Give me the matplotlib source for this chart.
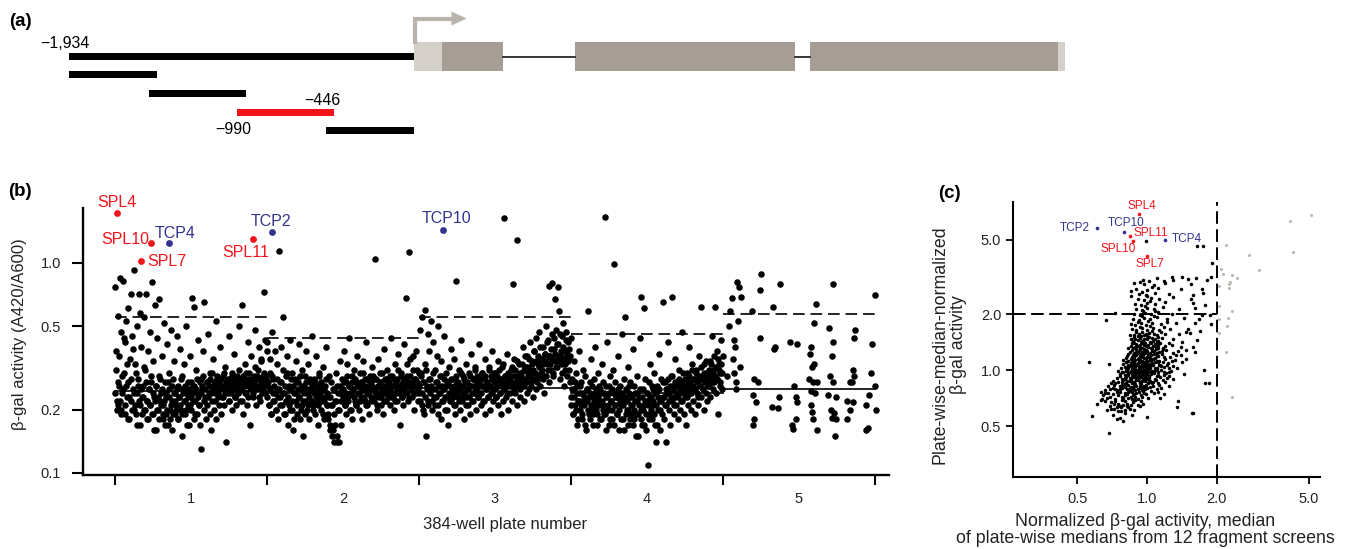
import numpy as np
import matplotlib
matplotlib.use("Agg")
import matplotlib.pyplot as plt
from matplotlib.patches import Polygon
from matplotlib.ticker import NullLocator

plt.rcParams['font.family'] = ['Liberation Sans', 'DejaVu Sans']

RED = '#f2141b'
BLUE = '#33338f'
LIGHT = '#d5d1ca'
DARK = '#a69d94'
ARROW = '#bab3ac'
GRAY = '#bdb8b1'

W, H = 1352, 549

# ---------------- panel (a) data: bp relative to TSS
frag_start = [-1934, -1934, -1485, -990, -493]
frag_end = [0, -1441, -942, -446, 0]
frag_color = ['black', 'black', 'black', RED, 'black']
exon_start = [157, 902, 2220]
exon_end = [499, 2136, 3610]
utr5 = (0, 157)
utr3 = (3610, 3649)

# ---------------- panel (b) data: beta-gal activity per well, plate order
plate1 = [0.77, 0.38, 0.22, 0.21, 0.56, 0.26, 0.85, 0.47, 0.20, 0.24, 0.82, 0.30, 0.19, 0.42, 0.53, 0.23, 0.27, 0.61, 0.18, 0.35,
          0.71, 0.22, 0.45, 0.25, 0.20, 0.93, 0.33, 0.19, 0.50, 0.24, 0.28, 0.71, 0.21, 0.17, 0.40, 0.23, 0.26, 0.55, 0.20, 0.31,
          0.71, 0.22, 0.18, 0.38, 0.25, 0.47, 0.21, 0.27, 0.81, 0.19, 0.34, 0.23, 0.63, 0.16, 0.26, 0.44, 0.20, 0.67, 0.29, 0.22,
          0.24, 0.36, 0.18, 0.21, 0.52, 0.27, 0.19, 0.23, 0.41, 0.17, 0.25, 0.30, 0.20, 0.48, 0.22, 0.16, 0.28, 0.34, 0.19, 0.24,
          0.21, 0.45, 0.26, 0.18, 0.23, 0.39, 0.20, 0.29, 0.15, 0.25, 0.33, 0.22, 0.19, 0.50, 0.24, 0.21, 0.27, 0.17, 0.36, 0.23,
          0.20, 0.68, 0.26, 0.18, 0.62, 0.22, 0.31, 0.19, 0.24, 0.43, 0.21, 0.17, 0.28, 0.13, 0.25, 0.38, 0.20, 0.65, 0.23, 0.18,
          0.27, 0.21, 0.46, 0.24, 0.19, 0.30, 0.16, 0.22, 0.35, 0.26, 0.20, 0.24, 0.53, 0.18, 0.28, 0.23, 0.21, 0.40, 0.25, 0.19,
          0.26, 0.23, 0.29, 0.21, 0.32, 0.25, 0.14, 0.27, 0.24, 0.45, 0.22, 0.28, 0.26, 0.20, 0.30, 0.25, 0.37, 0.23, 0.27, 0.21,
          0.29, 0.24, 0.26, 0.50, 0.22, 0.28, 0.63, 0.25, 0.19, 0.27, 0.33, 0.24, 0.30, 0.21, 0.42, 0.26, 0.28, 0.17, 0.25, 0.36,
          0.27, 0.23, 0.29, 0.26, 0.48, 0.21, 0.28, 0.31, 0.25, 0.40, 0.22, 0.27, 0.34, 0.24, 0.29, 0.73, 0.26, 0.43, 0.28, 0.38]
plate2 = [0.42, 0.26, 0.21, 0.35, 0.30, 0.19, 0.47, 0.24, 0.28, 0.22, 0.38, 0.20, 0.33, 0.25, 0.18, 1.14, 0.27, 0.23, 0.40, 0.21,
          0.31, 0.55, 0.24, 0.19, 0.29, 0.22, 0.36, 0.17, 0.26, 0.21, 0.43, 0.25, 0.20, 0.30, 0.16, 0.24, 0.28, 0.22, 0.34, 0.19,
          0.27, 0.23, 0.41, 0.18, 0.25, 0.21, 0.31, 0.15, 0.26, 0.22, 0.29, 0.38, 0.20, 0.24, 0.33, 0.18, 0.27, 0.22, 0.25, 0.45,
          0.21, 0.28, 0.19, 0.24, 0.36, 0.22, 0.26, 0.17, 0.30, 0.23, 0.20, 0.27, 0.25, 0.32, 0.18, 0.22, 0.26, 0.40, 0.21, 0.24,
          0.19, 0.29, 0.23, 0.17, 0.27, 0.21, 0.16, 0.25, 0.14, 0.22, 0.30, 0.15, 0.26, 0.20, 0.14, 0.34, 0.24, 0.17, 0.28, 0.22,
          0.25, 0.38, 0.21, 0.27, 0.19, 0.33, 0.23, 0.26, 0.44, 0.20, 0.24, 0.29, 0.18, 0.25, 0.31, 0.22, 0.27, 0.21, 0.36, 0.24,
          0.26, 0.20, 0.30, 0.23, 0.27, 0.18, 0.34, 0.25, 0.22, 0.28, 0.42, 0.21, 0.26, 0.24, 0.19, 0.29, 0.23, 0.27, 0.32, 0.25,
          0.22, 1.05, 0.28, 0.24, 0.20, 0.35, 0.26, 0.23, 0.30, 0.21, 0.27, 0.25, 0.19, 0.39, 0.24, 0.28, 0.22, 0.26, 0.31, 0.23,
          0.27, 0.21, 0.25, 0.44, 0.29, 0.23, 0.26, 0.20, 0.33, 0.24, 0.28, 0.22, 0.37, 0.26, 0.17, 0.25, 0.30, 0.23, 0.27, 0.21,
          0.41, 0.26, 0.24, 0.68, 0.29, 0.22, 1.13, 0.27, 0.35, 0.25, 0.23, 0.31, 0.26, 0.20, 0.28, 0.38, 0.24, 0.27, 0.22, 0.30]
plate3 = [0.24, 0.48, 0.30, 0.21, 0.55, 0.27, 0.19, 0.60, 0.33, 0.15, 0.26, 0.46, 0.22, 0.38, 0.28, 0.53, 0.20, 0.25, 0.42, 0.23,
          0.31, 0.21, 0.27, 0.36, 0.19, 0.50, 0.24, 0.29, 0.18, 0.34, 0.26, 0.22, 0.45, 0.25, 0.20, 0.30, 0.23, 0.27, 0.17, 0.32,
          0.26, 0.22, 0.39, 0.24, 0.28, 0.21, 0.35, 0.19, 0.82, 0.25, 0.27, 0.23, 0.31, 0.20, 0.26, 0.43, 0.22, 0.29, 0.24, 0.18,
          0.27, 0.33, 0.23, 0.25, 0.21, 0.30, 0.26, 0.19, 0.37, 0.24, 0.28, 0.22, 0.26, 0.32, 0.20, 0.25, 0.29, 0.23, 0.41, 0.27,
          0.24, 0.21, 0.30, 0.26, 0.22, 0.28, 0.35, 0.19, 0.25, 0.27, 0.23, 0.31, 0.26, 0.20, 0.29, 0.24, 0.38, 0.22, 0.27, 0.25,
          0.30, 0.23, 0.26, 0.21, 0.34, 0.28, 0.24, 0.19, 0.27, 0.32, 0.22, 1.63, 0.25, 0.29, 0.23, 0.37, 0.26, 0.20, 0.28, 0.24,
          0.31, 0.27, 0.22, 0.79, 0.26, 0.35, 0.24, 0.29, 0.21, 1.29, 0.27, 0.33, 0.25, 0.23, 0.30, 0.28, 0.40, 0.26, 0.22, 0.32,
          0.27, 0.24, 0.36, 0.29, 0.25, 0.31, 0.42, 0.26, 0.34, 0.23, 0.28, 0.38, 0.30, 0.25, 0.44, 0.27, 0.33, 0.29, 0.47, 0.26,
          0.35, 0.31, 0.28, 0.40, 0.24, 0.37, 0.50, 0.29, 0.33, 0.43, 0.27, 0.78, 0.36, 0.31, 0.46, 0.80, 0.29, 0.39, 0.67, 0.34,
          0.48, 0.32, 0.77, 0.41, 0.59, 0.28, 0.36, 0.45, 0.30, 0.52, 0.26, 0.38, 0.33, 0.47, 0.29, 0.35, 0.42, 0.31, 0.27, 0.44]
plate4 = [0.23, 0.28, 0.19, 0.34, 0.25, 0.21, 0.30, 0.17, 0.26, 0.22, 0.38, 0.20, 0.24, 0.27, 0.18, 0.31, 0.23, 0.21, 0.29, 0.16,
          0.25, 0.22, 0.59, 0.19, 0.27, 0.24, 0.35, 0.20, 0.23, 0.17, 0.28, 0.40, 0.21, 0.25, 0.19, 0.30, 0.22, 0.26, 0.18, 0.24,
          0.33, 0.21, 0.27, 0.19, 1.66, 0.23, 0.26, 0.42, 0.20, 0.24, 0.17, 0.29, 0.22, 0.25, 0.18, 0.31, 0.99, 0.21, 0.27, 0.23,
          0.19, 0.36, 0.24, 0.16, 0.26, 0.21, 0.46, 0.23, 0.18, 0.28, 0.55, 0.22, 0.25, 0.20, 0.32, 0.17, 0.24, 0.27, 0.19, 0.23,
          0.21, 0.39, 0.18, 0.26, 0.22, 0.15, 0.24, 0.29, 0.19, 0.23, 0.44, 0.20, 0.69, 0.17, 0.25, 0.61, 0.21, 0.28, 0.16, 0.24,
          0.22, 0.109, 0.27, 0.19, 0.33, 0.23, 0.18, 0.25, 0.21, 0.30, 0.17, 0.24, 0.14, 0.26, 0.20, 0.37, 0.22, 0.16, 0.28, 0.19,
          0.65, 0.23, 0.18, 0.27, 0.21, 0.14, 0.25, 0.42, 0.20, 0.24, 0.17, 0.29, 0.22, 0.69, 0.26, 0.19, 0.23, 0.35, 0.21, 0.27,
          0.18, 0.24, 0.31, 0.20, 0.26, 0.22, 0.47, 0.25, 0.19, 0.28, 0.23, 0.17, 0.30, 0.21, 0.27, 0.40, 0.24, 0.20, 0.26, 0.33,
          0.22, 0.28, 0.25, 0.19, 0.31, 0.24, 0.27, 0.21, 0.36, 0.26, 0.62, 0.23, 0.29, 0.25, 0.20, 0.33, 0.27, 0.24, 0.30, 0.22,
          0.28, 0.26, 0.34, 0.23, 0.29, 0.45, 0.25, 0.31, 0.27, 0.62, 0.24, 0.38, 0.28, 0.19, 0.33, 0.26, 0.30, 0.43, 0.25, 0.36]
# second read-out replicate wells (fill the dense band)
plate1_rep = [0.24, 0.31, 0.20, 0.27, 0.36, 0.22, 0.19, 0.29, 0.25, 0.44, 0.21, 0.26, 0.33, 0.18, 0.23,
              0.28, 0.20, 0.39, 0.24, 0.21, 0.30, 0.17, 0.26, 0.22, 0.58, 0.25, 0.19, 0.23, 0.32, 0.20,
              0.27, 0.22, 0.18, 0.25, 0.21, 0.29, 0.19, 0.24, 0.16, 0.22, 0.26, 0.20, 0.23, 0.18, 0.28,
              0.21, 0.25, 0.19, 0.22, 0.17, 0.24, 0.20, 0.27, 0.23, 0.18, 0.21, 0.26, 0.19, 0.24, 0.22,
              0.20, 0.25, 0.18, 0.23, 0.21, 0.28, 0.19, 0.24, 0.22, 0.26, 0.20, 0.17, 0.23, 0.25, 0.21,
              0.27, 0.24, 0.22, 0.26, 0.19, 0.25, 0.28, 0.23, 0.21, 0.27, 0.24, 0.26, 0.29, 0.22, 0.25,
              0.27, 0.23, 0.26, 0.28, 0.24, 0.30, 0.25, 0.27, 0.22, 0.26, 0.29, 0.24, 0.27, 0.25, 0.28,
              0.23, 0.26, 0.30, 0.24, 0.27, 0.25, 0.28, 0.22, 0.26, 0.24, 0.29, 0.27, 0.25, 0.23, 0.28,
              0.26, 0.24, 0.31, 0.27, 0.25, 0.22, 0.29, 0.26, 0.28, 0.24, 0.27, 0.23, 0.30, 0.26, 0.25,
              0.28, 0.24, 0.27, 0.32, 0.25, 0.29, 0.26, 0.23, 0.28, 0.35, 0.27, 0.25, 0.30, 0.24, 0.29]
plate2_rep = [0.23, 0.27, 0.21, 0.25, 0.19, 0.29, 0.22, 0.26, 0.24, 0.20, 0.28, 0.23, 0.25, 0.21, 0.27,
              0.24, 0.19, 0.26, 0.22, 0.30, 0.23, 0.25, 0.20, 0.28, 0.22, 0.26, 0.18, 0.24, 0.27, 0.21,
              0.25, 0.23, 0.29, 0.20, 0.26, 0.22, 0.24, 0.19, 0.27, 0.25, 0.21, 0.23, 0.28, 0.22, 0.26,
              0.20, 0.24, 0.27, 0.23, 0.25, 0.21, 0.29, 0.24, 0.22, 0.26, 0.19, 0.25, 0.23, 0.28, 0.21,
              0.18, 0.23, 0.16, 0.21, 0.15, 0.25, 0.19, 0.17, 0.22, 0.14, 0.24, 0.20, 0.26, 0.22, 0.25,
              0.23, 0.27, 0.21, 0.24, 0.29, 0.22, 0.26, 0.24, 0.20, 0.27, 0.25, 0.23, 0.28, 0.21, 0.26,
              0.24, 0.22, 0.27, 0.25, 0.30, 0.23, 0.26, 0.21, 0.28, 0.24, 0.25, 0.27, 0.22, 0.26, 0.29,
              0.23, 0.25, 0.28, 0.21, 0.26, 0.24, 0.27, 0.23, 0.30, 0.25, 0.22, 0.26, 0.28, 0.24, 0.27,
              0.25, 0.29, 0.23, 0.26, 0.24, 0.28, 0.22, 0.27, 0.25, 0.31, 0.24, 0.26, 0.29, 0.23, 0.27,
              0.25, 0.28, 0.24, 0.33, 0.26, 0.23, 0.29, 0.25, 0.27, 0.36, 0.24, 0.28, 0.26, 0.31, 0.25]
plate3_rep = [0.26, 0.22, 0.29, 0.24, 0.20, 0.27, 0.23, 0.31, 0.25, 0.21, 0.28, 0.24, 0.26, 0.22, 0.30,
              0.25, 0.23, 0.27, 0.21, 0.26, 0.24, 0.29, 0.22, 0.25, 0.28, 0.23, 0.26, 0.20, 0.27, 0.24,
              0.22, 0.28, 0.25, 0.23, 0.26, 0.21, 0.29, 0.24, 0.27, 0.22, 0.25, 0.30, 0.23, 0.26, 0.28,
              0.24, 0.21, 0.27, 0.25, 0.23, 0.29, 0.26, 0.22, 0.28, 0.24, 0.31, 0.25, 0.27, 0.23, 0.26,
              0.28, 0.24, 0.30, 0.26, 0.22, 0.29, 0.25, 0.27, 0.23, 0.32, 0.26, 0.24, 0.28, 0.25, 0.30,
              0.27, 0.23, 0.29, 0.26, 0.31, 0.24, 0.28, 0.26, 0.33, 0.25, 0.29, 0.27, 0.24, 0.30, 0.28,
              0.26, 0.32, 0.29, 0.25, 0.31, 0.27, 0.34, 0.28, 0.26, 0.30, 0.29, 0.33, 0.27, 0.31, 0.36,
              0.28, 0.32, 0.30, 0.35, 0.29, 0.27, 0.33, 0.31, 0.38, 0.30, 0.34, 0.28, 0.36, 0.32, 0.40,
              0.30, 0.35, 0.33, 0.29, 0.37, 0.34, 0.42, 0.31, 0.36, 0.33, 0.39, 0.35, 0.30, 0.44, 0.37,
              0.32, 0.41, 0.36, 0.34, 0.46, 0.38, 0.33, 0.40, 0.35, 0.31, 0.43, 0.37, 0.34, 0.39, 0.36]
plate4_rep = [0.21, 0.25, 0.19, 0.23, 0.27, 0.20, 0.24, 0.18, 0.22, 0.26, 0.21, 0.19, 0.24, 0.22, 0.17,
              0.25, 0.20, 0.23, 0.18, 0.21, 0.26, 0.19, 0.22, 0.24, 0.20, 0.17, 0.23, 0.21, 0.25, 0.18,
              0.22, 0.20, 0.24, 0.19, 0.16, 0.23, 0.21, 0.26, 0.18, 0.22, 0.20, 0.24, 0.17, 0.21, 0.23,
              0.19, 0.25, 0.20, 0.22, 0.18, 0.24, 0.21, 0.16, 0.23, 0.19, 0.22, 0.20, 0.26, 0.18, 0.21,
              0.23, 0.17, 0.20, 0.24, 0.19, 0.22, 0.15, 0.21, 0.25, 0.18, 0.23, 0.20, 0.17, 0.22, 0.19,
              0.24, 0.21, 0.18, 0.23, 0.20, 0.26, 0.22, 0.19, 0.24, 0.21, 0.17, 0.23, 0.25, 0.20, 0.22,
              0.27, 0.23, 0.21, 0.25, 0.24, 0.28, 0.22, 0.26, 0.23, 0.29, 0.25, 0.21, 0.27, 0.24, 0.26,
              0.23, 0.28, 0.25, 0.22, 0.27, 0.30, 0.24, 0.26, 0.28, 0.23, 0.25, 0.29, 0.27, 0.24, 0.31,
              0.26, 0.28, 0.25, 0.30, 0.27, 0.23, 0.29, 0.26, 0.32, 0.28, 0.25, 0.30, 0.27, 0.34, 0.29,
              0.26, 0.31, 0.28, 0.33, 0.27, 0.30, 0.36, 0.29, 0.32, 0.28, 0.35, 0.31, 0.27, 0.33, 0.30]
# plate 5 has gaps, so keep explicit positions (plate units)
p5_pos = [4.092, 4.105, 4.118, 4.059, 4.046, 4.098, 4.072, 4.078, 4.111, 4.085, 4.085, 4.04, 4.072, 4.026, 4.065,
          4.248, 4.242, 4.190, 4.242, 4.203, 4.229, 4.196, 4.216, 4.203, 4.196,
          4.373, 4.327, 4.340, 4.333, 4.320, 4.359, 4.366,
          4.444, 4.484, 4.464, 4.477, 4.484, 4.477, 4.451, 4.458,
          4.614, 4.601, 4.582, 4.575, 4.601, 4.588, 4.569, 4.595, 4.621, 4.582, 4.608, 4.582, 4.588, 4.595, 4.621,
          4.699, 4.725, 4.719, 4.706, 4.725, 4.693, 4.745, 4.712, 4.732, 4.719, 4.745, 4.739, 4.725,
          4.869, 4.863, 4.856, 4.863, 4.850, 4.837, 4.817, 4.856, 4.837, 4.817,
          5.0, 4.980, 4.974, 5.0, 4.961, 4.941, 5.007, 4.954, 4.941]
p5_val = [0.81, 0.77, 0.69, 0.68, 0.59, 0.53, 0.43, 0.40, 0.32, 0.27, 0.25, 0.50, 0.30, 0.29, 0.35,
          0.89, 0.74, 0.59, 0.44, 0.28, 0.27, 0.235, 0.218, 0.18, 0.17,
          0.79, 0.62, 0.40, 0.39, 0.207, 0.204, 0.23,
          0.42, 0.41, 0.26, 0.23, 0.218, 0.18, 0.17, 0.162,
          0.64, 0.52, 0.40, 0.37, 0.33, 0.32, 0.28, 0.27, 0.27, 0.245, 0.24, 0.21, 0.195, 0.18, 0.16,
          0.49, 0.42, 0.36, 0.29, 0.27, 0.235, 0.23, 0.20, 0.193, 0.183, 0.18, 0.15, 0.79,
          0.48, 0.44, 0.31, 0.29, 0.27, 0.27, 0.22, 0.218, 0.20, 0.18,
          0.70, 0.41, 0.30, 0.26, 0.235, 0.21, 0.20, 0.163, 0.16]
plate_median = [0.245, 0.24, 0.255, 0.24, 0.25]
plate_cutoff = [0.55, 0.44, 0.55, 0.46, 0.57]

# highlighted hits in (b): position, value, colour, label offset (px)
b_names = ['SPL4', 'SPL10', 'TCP4', 'SPL7', 'SPL11', 'TCP2', 'TCP10']
b_pos = [0.01, 0.237, 0.355, 0.171, 0.91, 1.03, 2.16]
b_val = [1.73, 1.245, 1.245, 1.02, 1.30, 1.41, 1.44]
b_col = [RED, RED, BLUE, RED, RED, BLUE, BLUE]
b_off = [(0, 10), (-26, 3), (6, 9), (26, 0), (-8, -13), (-1, 10), (3, 11)]

# ---------------- panel (c) data
c_black = [
    (0.56, 1.10), (0.685, 1.08), (0.665, 1.86), (0.73, 2.02), (0.58, 0.565), (0.685, 0.46), (0.63, 0.69),
    (0.645, 0.73), (0.61, 0.66), (0.67, 0.61), (0.74, 0.545), (0.79, 0.53), (0.80, 0.59), (1.0, 0.56),
    (1.58, 0.59), (1.35, 0.63), (1.36, 0.68), (1.78, 0.85), (1.85, 0.85), (1.14, 0.71), (1.76, 1.0),
    (1.57, 0.59), (0.71, 0.57), (0.76, 0.55), (0.86, 0.57), (0.69, 0.64),
    (1.42, 3.16), (1.63, 3.12), (1.82, 3.05), (1.89, 3.16), (1.28, 3.16), (1.10, 3.12), (1.18, 3.0),
    (0.88, 2.93), (0.85, 2.66), (0.85, 2.5), (1.58, 2.53), (1.75, 2.6), (1.58, 2.29), (1.78, 2.24),
    (1.87, 1.97), (1.73, 1.97), (1.89, 1.77), (1.53, 1.58), (1.65, 1.45), (1.58, 1.33), (0.99, 4.94),
    (1.65, 4.64), (1.75, 4.64), (1.91, 3.76), (1.62, 1.25), (1.48, 1.15), (1.70, 1.62), (1.45, 0.95),
    (0.72, 0.62), (0.77, 0.60), (0.83, 0.63), (0.88, 0.61), (0.93, 0.64), (0.76, 0.64),
    (0.70, 0.67), (0.75, 0.66), (0.80, 0.68), (0.85, 0.65), (0.89, 0.69), (0.96, 0.66), (0.82, 0.66),
    (0.67, 0.71), (0.73, 0.70), (0.78, 0.72), (0.83, 0.71), (0.87, 0.73), (0.91, 0.70), (0.95, 0.72),
    (1.01, 0.71), (0.80, 0.73),
    (0.66, 0.75), (0.71, 0.74), (0.76, 0.76), (0.80, 0.75), (0.84, 0.77), (0.88, 0.74), (0.92, 0.76),
    (0.97, 0.75), (1.04, 0.77), (0.86, 0.76),
    (0.69, 0.79), (0.74, 0.78), (0.78, 0.80), (0.82, 0.79), (0.85, 0.81), (0.89, 0.78), (0.93, 0.80),
    (0.98, 0.79), (1.03, 0.81), (1.10, 0.79), (0.87, 0.80), (0.95, 0.78),
    (0.72, 0.83), (0.76, 0.82), (0.80, 0.84), (0.83, 0.83), (0.86, 0.85), (0.90, 0.82), (0.94, 0.84),
    (0.99, 0.83), (1.05, 0.85), (1.13, 0.83), (0.88, 0.84), (0.97, 0.82), (1.01, 0.85),
    (0.71, 0.87), (0.75, 0.86), (0.79, 0.88), (0.82, 0.87), (0.85, 0.89), (0.88, 0.86), (0.91, 0.88),
    (0.95, 0.87), (1.00, 0.89), (1.06, 0.86), (1.17, 0.88), (0.93, 0.86), (0.97, 0.89), (1.03, 0.87),
    (0.74, 0.91), (0.78, 0.90), (0.81, 0.92), (0.84, 0.91), (0.87, 0.93), (0.90, 0.90), (0.93, 0.92),
    (0.97, 0.91), (1.02, 0.93), (1.08, 0.90), (1.14, 0.92), (0.89, 0.92), (0.95, 0.93), (1.00, 0.90),
    (1.22, 0.91),
    (0.76, 0.95), (0.80, 0.94), (0.83, 0.96), (0.86, 0.95), (0.89, 0.97), (0.92, 0.94), (0.96, 0.96),
    (1.00, 0.95), (1.04, 0.97), (1.11, 0.94), (1.21, 0.96), (0.88, 0.94), (0.94, 0.97), (0.98, 0.94),
    (1.07, 0.96),
    (0.75, 0.99), (0.79, 0.98), (0.82, 1.00), (0.85, 0.99), (0.88, 1.01), (0.91, 0.98), (0.94, 1.00),
    (0.98, 0.99), (1.02, 1.01), (1.07, 0.98), (1.15, 1.00), (1.27, 0.99), (0.90, 1.00), (0.96, 0.98),
    (1.00, 1.01), (1.10, 1.01),
    (0.77, 1.03), (0.81, 1.02), (0.84, 1.05), (0.87, 1.03), (0.90, 1.06), (0.93, 1.02), (0.96, 1.04),
    (1.00, 1.03), (1.05, 1.06), (1.10, 1.02), (1.18, 1.04), (1.30, 1.05), (0.92, 1.05), (0.98, 1.06),
    (1.03, 1.02), (1.13, 1.06),
    (0.79, 1.08), (0.83, 1.07), (0.86, 1.10), (0.89, 1.08), (0.92, 1.11), (0.95, 1.07), (0.99, 1.09),
    (1.03, 1.08), (1.08, 1.11), (1.14, 1.07), (1.23, 1.09), (0.91, 1.09), (0.97, 1.11), (1.01, 1.07),
    (1.11, 1.10),
    (0.79, 1.13), (0.83, 1.12), (0.86, 1.15), (0.89, 1.13), (0.92, 1.16), (0.95, 1.12), (0.99, 1.14),
    (1.03, 1.13), (1.08, 1.16), (1.13, 1.12), (1.20, 1.15), (1.32, 1.13), (0.94, 1.17), (1.00, 1.17),
    (1.06, 1.14),
    (0.82, 1.19), (0.86, 1.18), (0.89, 1.21), (0.93, 1.19), (0.96, 1.22), (1.00, 1.18), (1.04, 1.20),
    (1.10, 1.19), (1.16, 1.22), (1.26, 1.18), (0.91, 1.23), (0.98, 1.23), (1.07, 1.22), (1.40, 1.21),
    (0.84, 1.25), (0.88, 1.24), (0.92, 1.27), (0.95, 1.25), (0.99, 1.28), (1.03, 1.24), (1.07, 1.26),
    (1.13, 1.25), (1.21, 1.28), (1.36, 1.26), (0.90, 1.29), (0.97, 1.30), (1.05, 1.29), (1.17, 1.30),
    (0.83, 1.32), (0.87, 1.31), (0.91, 1.34), (0.95, 1.32), (0.99, 1.35), (1.04, 1.31), (1.09, 1.33),
    (1.17, 1.32), (1.28, 1.36), (0.93, 1.37), (1.01, 1.37), (1.12, 1.36),
    (0.86, 1.39), (0.90, 1.38), (0.94, 1.41), (0.98, 1.39), (1.03, 1.42), (1.08, 1.38), (1.14, 1.40),
    (1.24, 1.39), (1.42, 1.41), (0.96, 1.44), (1.06, 1.44),
    (0.85, 1.47), (0.89, 1.46), (0.93, 1.49), (0.97, 1.47), (1.02, 1.50), (1.08, 1.46), (1.16, 1.48),
    (1.30, 1.47), (0.91, 1.52), (1.00, 1.52), (1.12, 1.51),
    (0.84, 1.55), (0.88, 1.54), (0.92, 1.57), (0.97, 1.55), (1.02, 1.59), (1.10, 1.54), (1.20, 1.57),
    (1.38, 1.56), (0.95, 1.61), (1.05, 1.62), (1.48, 1.60),
    (0.86, 1.66), (0.90, 1.64), (0.95, 1.68), (1.00, 1.65), (1.06, 1.69), (1.13, 1.64), (1.26, 1.67),
    (1.50, 1.66), (0.93, 1.71), (1.03, 1.72), (1.18, 1.71),
    (0.85, 1.76), (0.89, 1.74), (0.94, 1.78), (0.99, 1.75), (1.05, 1.80), (1.15, 1.76), (1.33, 1.78),
    (0.91, 1.82), (1.01, 1.83), (1.22, 1.82), (1.62, 1.80),
    (0.87, 1.88), (0.92, 1.86), (0.97, 1.90), (1.03, 1.87), (1.10, 1.92), (1.22, 1.88), (1.45, 1.90),
    (1.68, 1.87), (0.95, 1.94), (1.07, 1.95),
    (0.88, 2.00), (0.93, 1.98), (0.98, 2.03), (1.04, 2.00), (1.12, 2.05), (1.28, 2.01), (0.96, 2.07),
    (1.08, 2.08),
    (0.90, 2.12), (0.95, 2.10), (1.00, 2.15), (1.07, 2.12), (1.17, 2.18), (1.38, 2.13), (1.62, 2.15),
    (0.98, 2.20),
    (0.89, 2.26), (0.94, 2.24), (1.00, 2.29), (1.08, 2.25), (1.20, 2.31), (1.03, 2.34),
    (0.91, 2.40), (0.97, 2.38), (1.04, 2.44), (1.13, 2.40), (1.30, 2.46), (1.55, 2.42), (1.00, 2.49),
    (0.92, 2.56), (0.99, 2.54), (1.08, 2.60), (1.24, 2.57), (0.95, 2.63),
    (0.90, 2.72), (1.00, 2.70), (1.12, 2.76), (1.40, 2.72), (1.72, 2.74), (1.05, 2.80),
    (0.97, 2.90), (1.07, 2.88), (1.20, 2.94), (1.55, 2.90), (0.93, 2.97),
    (0.96, 3.06), (1.30, 3.05), (1.50, 3.10), (1.02, 3.02),
    # densest core, second pass
    (0.74, 0.63), (0.79, 0.65), (0.84, 0.62), (0.87, 0.67), (0.91, 0.65), (0.78, 0.69), (0.73, 0.68),
    (0.86, 0.70), (0.94, 0.68),
    (0.69, 0.72), (0.75, 0.73), (0.79, 0.71), (0.82, 0.74), (0.85, 0.72), (0.90, 0.75), (0.94, 0.73),
    (0.99, 0.74), (0.74, 0.76), (0.83, 0.76), (0.89, 0.72), (0.96, 0.77), (1.07, 0.75),
    (0.71, 0.80), (0.76, 0.79), (0.80, 0.81), (0.84, 0.80), (0.88, 0.82), (0.91, 0.79), (0.96, 0.81),
    (1.00, 0.80), (1.06, 0.82), (0.78, 0.83), (0.86, 0.79), (0.93, 0.82), (1.15, 0.80),
    (0.73, 0.85), (0.78, 0.86), (0.81, 0.85), (0.84, 0.87), (0.87, 0.86), (0.90, 0.88), (0.93, 0.85),
    (0.98, 0.87), (1.02, 0.86), (1.09, 0.88), (0.80, 0.89), (0.89, 0.84), (0.96, 0.89), (1.12, 0.85),
    (0.76, 0.93), (0.80, 0.91), (0.83, 0.94), (0.86, 0.92), (0.89, 0.95), (0.92, 0.91), (0.95, 0.94),
    (0.99, 0.92), (1.04, 0.95), (1.10, 0.93), (1.18, 0.94), (0.85, 0.90), (0.91, 0.93), (0.97, 0.95),
    (1.02, 0.91),
    (0.78, 0.97), (0.81, 0.99), (0.84, 0.97), (0.87, 0.99), (0.90, 0.96), (0.93, 0.98), (0.97, 1.00),
    (1.01, 0.97), (1.05, 0.99), (1.12, 0.97), (1.24, 0.98), (0.86, 1.01), (0.92, 1.01), (0.99, 0.96),
    (1.08, 1.00),
    (0.80, 1.04), (0.83, 1.03), (0.86, 1.06), (0.89, 1.04), (0.92, 1.03), (0.95, 1.06), (0.99, 1.04),
    (1.03, 1.05), (1.08, 1.03), (1.15, 1.05), (1.25, 1.03), (0.88, 1.07), (0.94, 1.04), (1.01, 1.06),
    (1.06, 1.07),
    (0.81, 1.10), (0.85, 1.09), (0.88, 1.11), (0.91, 1.08), (0.94, 1.10), (0.97, 1.08), (1.01, 1.12),
    (1.05, 1.09), (1.10, 1.12), (1.17, 1.10), (0.87, 1.13), (0.93, 1.13), (0.99, 1.10), (1.04, 1.13),
    (0.81, 1.16), (0.85, 1.15), (0.88, 1.18), (0.91, 1.15), (0.94, 1.19), (0.97, 1.16), (1.02, 1.18),
    (1.06, 1.15), (1.12, 1.19), (1.18, 1.17), (0.90, 1.20), (0.96, 1.20), (1.03, 1.16),
    (0.83, 1.22), (0.87, 1.21), (0.90, 1.25), (0.94, 1.22), (0.97, 1.26), (1.01, 1.22), (1.05, 1.27),
    (1.10, 1.23), (1.16, 1.26), (0.86, 1.28), (0.93, 1.29), (1.00, 1.27), (1.09, 1.29), (1.30, 1.23),
    (0.85, 1.34), (0.89, 1.33), (0.93, 1.31), (0.97, 1.36), (1.01, 1.33), (1.06, 1.35), (1.12, 1.31),
    (1.20, 1.35), (0.88, 1.39), (0.95, 1.40), (1.04, 1.39), (1.10, 1.41),
    (0.87, 1.43), (0.91, 1.45), (0.95, 1.43), (1.00, 1.46), (1.05, 1.48), (1.12, 1.44), (0.88, 1.50),
    (0.94, 1.53), (0.99, 1.57), (1.07, 1.56), (1.15, 1.60), (0.90, 1.60),
    (0.64, 0.70), (0.66, 0.68), (0.68, 0.75), (0.70, 0.62), (0.72, 0.66), (0.75, 0.60), (0.77, 0.63),
    (0.80, 0.61), (0.82, 0.64), (0.66, 0.78), (0.68, 0.82), (0.63, 0.76), (0.70, 0.85), (0.73, 0.79),
    (1.18, 0.98), (1.22, 1.06), (1.28, 1.12), (1.33, 1.20), (1.25, 0.93), (1.35, 1.02), (1.42, 1.10),
    (1.48, 1.28), (1.40, 1.33), (1.20, 0.86), (1.30, 0.90), (1.12, 0.76), (1.25, 0.82), (1.18, 0.74),
]
c_gray = [(5.13, 6.8), (4.16, 6.3), (4.29, 4.3), (2.2, 4.7), (2.76, 4.15), (3.05, 3.45), (2.09, 3.5),
          (2.13, 3.3), (2.33, 3.24), (2.45, 3.12), (2.29, 2.97), (2.27, 2.9), (2.27, 2.76), (2.05, 2.83),
          (2.05, 2.2), (2.33, 2.07), (2.05, 1.88), (2.24, 1.9), (2.22, 1.72), (2.05, 1.58), (2.2, 1.25),
          (2.33, 0.72)]
c_names = ['SPL4', 'TCP2', 'TCP10', 'SPL11', 'SPL10', 'TCP4', 'SPL7']
c_x = [0.92, 0.61, 0.795, 0.844, 0.87, 1.2, 1.0]
c_y = [6.9, 5.8, 5.5, 5.25, 4.94, 5.0, 4.1]
c_col = [RED, BLUE, BLUE, RED, RED, BLUE, RED]
c_off = [(3, 8), (-23, 0), (2, 9), (21, 3), (-15, -8), (21, 1), (3, -8)]

fig = plt.figure(figsize=(W / 100, H / 100), dpi=100)

# ================= panel (a)
px_per_bp = 345 / 1934
ax_a = fig.add_axes([0, 1 - 150 / H, 1, 150 / H])
ax_a.set_xlim(-414 / px_per_bp, (W - 414) / px_per_bp)
ax_a.set_ylim(150, 0)
ax_a.axis('off')
rows = [56, 74.5, 93.5, 112, 130.5]
for s, e, c, r in zip(frag_start, frag_end, frag_color, rows):
    ax_a.barh(r, e - s, left=s, height=7, color=c, linewidth=0)
# introns
ax_a.plot([exon_end[0], exon_start[1]], [56.5, 56.5], color='black', lw=1.1)
ax_a.plot([exon_end[1], exon_start[2]], [56.5, 56.5], color='black', lw=1.1)
ax_a.barh(56.5, utr5[1] - utr5[0], left=utr5[0], height=29, color=LIGHT, linewidth=0)
ax_a.barh(56.5, utr3[1] - utr3[0], left=utr3[0], height=29, color=LIGHT, linewidth=0)
for s, e in zip(exon_start, exon_end):
    ax_a.barh(56.5, e - s, left=s, height=29, color=DARK, linewidth=0)
# TSS arrow
ax_a.plot([6, 6, 215], [42, 18.5, 18.5], color=ARROW, lw=3, solid_joinstyle='miter')
ax_a.add_patch(Polygon([[210, 11.5], [295, 18.5], [210, 25.5]], closed=True, color=ARROW, lw=0))
ax_a.text(-1956, 43, '\u22121,934', ha='center', va='center', fontsize=11.5)
ax_a.text(-516, 100, '\u2212446', ha='center', va='center', fontsize=11.5)
ax_a.text(-1015, 129, '\u2212990', ha='center', va='center', fontsize=11.5)

# ================= panel (b)
ax_b = fig.add_axes([83 / W, 1 - 475 / H, (889 - 83) / W, (475 - 208) / H])
for k, vals in enumerate([plate1, plate2, plate3, plate4]):
    n = len(vals)
    xs = k + (np.arange(n) + 0.5) / n
    ax_b.scatter(xs, vals, s=22, color='black', linewidths=0, zorder=2)
for k, vals in enumerate([plate1_rep, plate2_rep, plate3_rep, plate4_rep]):
    n = len(vals)
    xs = k + (np.arange(n) + 0.3) / n
    ax_b.scatter(xs, vals, s=22, color='black', linewidths=0, zorder=2)
ax_b.scatter(p5_pos, p5_val, s=22, color='black', linewidths=0, zorder=2)
for k in range(5):
    ax_b.plot([k, k + 1], [plate_median[k]] * 2, color='black', lw=1.2, zorder=3)
    ax_b.plot([k, k + 1], [plate_cutoff[k]] * 2, color='black', lw=1.2,
              ls=(0, (7, 3.5)), zorder=3)
for name, x, y, c, off in zip(b_names, b_pos, b_val, b_col, b_off):
    ax_b.scatter([x], [y], s=24, color=c, linewidths=0, zorder=4, clip_on=False)
    ax_b.annotate(name, (x, y), xytext=off, textcoords='offset pixels', color=c,
                  fontsize=11.5, ha='center', va='center', annotation_clip=False)
ax_b.set_yscale('log')
ax_b.set_ylim(0.0978, 1.827)
ax_b.set_xlim((83 - 115) / 152, (889 - 115) / 152)
ax_b.set_yticks([0.1, 0.2, 0.5, 1.0])
ax_b.set_yticklabels(['0.1', '0.2', '0.5', '1.0'])
ax_b.yaxis.set_minor_locator(NullLocator())
ax_b.set_xticks(range(6))
ax_b.set_xticklabels([''] * 6)
ax_b.set_xticks([0.5, 1.5, 2.5, 3.5, 4.5], minor=True)
ax_b.set_xticklabels(['1', '2', '3', '4', '5'], minor=True)
ax_b.tick_params(axis='x', which='major', length=7, width=1.5)
ax_b.tick_params(axis='x', which='minor', length=0, pad=12, labelsize=10.5, labelcolor='#222222')
ax_b.tick_params(axis='y', which='major', length=8, width=1.5, pad=8, labelsize=10.5,
                 labelcolor='#222222')
for sp in ['top', 'right']:
    ax_b.spines[sp].set_visible(False)
for sp in ['left', 'bottom']:
    ax_b.spines[sp].set_linewidth(1.7)
fig.text(505 / W, 1 - 524 / H, '384-well plate number', ha='center', va='center',
         fontsize=12, color='#222222')
fig.text(20 / W, 1 - 334 / H, '\u03b2-gal activity (A420/A600)', rotation=90, ha='center',
         va='center', fontsize=12, color='#222222')

# ================= panel (c)
ax_c = fig.add_axes([1013 / W, 1 - 477 / H, (1320 - 1013) / W, (477 - 202) / H])
cb = np.array(c_black)
cg = np.array(c_gray)
ax_c.scatter(cb[:, 0], cb[:, 1], s=6.5, color='black', linewidths=0, zorder=2)
ax_c.scatter(cg[:, 0], cg[:, 1], s=5, color=GRAY, linewidths=0, zorder=2)
ax_c.set_xscale('log')
ax_c.set_yscale('log')
ax_c.set_xlim(0.263, 5.6)
ax_c.set_ylim(0.266, 8.0)
ax_c.axvline(2.0, color='black', lw=1.4, ls=(0, (6.5, 2.8)), zorder=3)
ax_c.plot([0.263, 2.0], [2.0, 2.0], color='black', lw=1.4, ls=(0, (6.5, 2.8)), zorder=3)
for name, x, y, c, off in zip(c_names, c_x, c_y, c_col, c_off):
    ax_c.scatter([x], [y], s=7, color=c, linewidths=0, zorder=4)
    ax_c.annotate(name, (x, y), xytext=off, textcoords='offset pixels', color=c,
                  fontsize=8.5, ha='center', va='center', annotation_clip=False)
ax_c.set_xticks([0.5, 1.0, 2.0, 5.0])
ax_c.set_xticklabels(['0.5', '1.0', '2.0', '5.0'])
ax_c.set_yticks([0.5, 1.0, 2.0, 5.0])
ax_c.set_yticklabels(['0.5', '1.0', '2.0', '5.0'])
ax_c.xaxis.set_minor_locator(NullLocator())
ax_c.yaxis.set_minor_locator(NullLocator())
ax_c.tick_params(which='major', length=5, width=1.3, labelsize=10.5, labelcolor='#222222')
ax_c.tick_params(axis='x', pad=6)
for sp in ['top', 'right']:
    ax_c.spines[sp].set_visible(False)
for sp in ['left', 'bottom']:
    ax_c.spines[sp].set_linewidth(1.5)
fig.text(949 / W, 1 - 345 / H, 'Plate-wise-median-normalized\n\u03b2-gal activity', rotation=90,
         ha='center', va='center', fontsize=12.8, color='#222222', linespacing=1.1)
fig.text(1145 / W, 1 - 530 / H, 'Normalized \u03b2-gal activity, median\nof plate-wise medians from 12 fragment screens',
         ha='center', va='center', fontsize=12.8, color='#222222', linespacing=1.05)

# panel letters
fig.text(20 / W, 1 - 21 / H, '(a)', ha='center', va='center', fontsize=13.5, fontweight='bold')
fig.text(20 / W, 1 - 191 / H, '(b)', ha='center', va='center', fontsize=13.5, fontweight='bold')
fig.text(949 / W, 1 - 193 / H, '(c)', ha='center', va='center', fontsize=13.5, fontweight='bold')

fig.savefig('out.png', dpi=100)
